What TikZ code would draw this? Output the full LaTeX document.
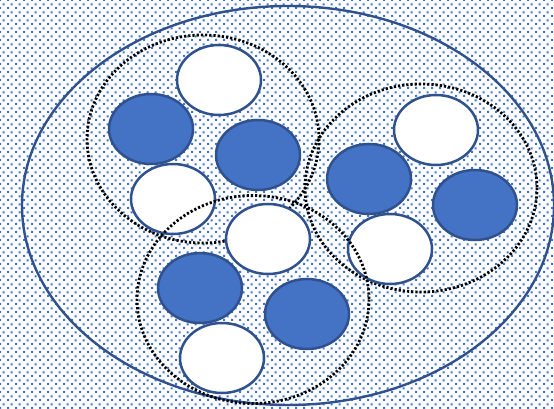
\documentclass[tikz,border=0pt]{standalone}
\usetikzlibrary{patterns}
\definecolor{fillblue}{RGB}{68,114,196}
\definecolor{edgeblue}{RGB}{47,82,143}
\pgfdeclarepatternformonly{mydots}{\pgfpoint{0pt}{0pt}}{\pgfpoint{8pt}{8pt}}{\pgfpoint{8pt}{8pt}}{%
  \pgfpathrectangle{\pgfpoint{0pt}{0pt}}{\pgfpoint{2.4pt}{2.4pt}}%
  \pgfpathrectangle{\pgfpoint{4pt}{4pt}}{\pgfpoint{2.4pt}{2.4pt}}%
  \pgfusepath{fill}}
\tikzset{
  member/.style={draw=edgeblue, line width=2.5pt},
  bluemember/.style={member, fill=fillblue},
  whitemember/.style={member, fill=white},
  groupring/.style={draw=black, line width=2.8pt, dash pattern=on 2.2pt off 2pt},
}
\begin{document}
\begin{tikzpicture}[x=1pt,y=-1pt]
\useasboundingbox (0,0) rectangle (554,409);
\fill[white] (0,0) rectangle (554,409);
\fill[pattern=mydots, pattern color=fillblue] (0,0) rectangle (554,409);
% outer ellipse
\draw[edgeblue, line width=2.4pt] (288,205.5) ellipse [x radius=266, y radius=199.5];
% group 1
\draw[groupring] (203,139) ellipse [x radius=116, y radius=104];
\draw[whitemember] (219,80) ellipse [x radius=42, y radius=35];
\draw[bluemember] (151,129) ellipse [x radius=42, y radius=35];
\draw[bluemember] (258,155) ellipse [x radius=42, y radius=35];
\draw[whitemember] (173,199) ellipse [x radius=42, y radius=35];
% group 2
\draw[groupring] (421,188) ellipse [x radius=116, y radius=104];
\draw[whitemember] (436,130) ellipse [x radius=42, y radius=35];
\draw[bluemember] (369,179) ellipse [x radius=42, y radius=35];
\draw[bluemember] (475,205) ellipse [x radius=42, y radius=35];
\draw[whitemember] (390,249) ellipse [x radius=42, y radius=35];
% group 3
\draw[groupring] (253,299.5) ellipse [x radius=116, y radius=104];
\draw[whitemember] (268,239) ellipse [x radius=42, y radius=35];
\draw[bluemember] (200,288) ellipse [x radius=42, y radius=35];
\draw[bluemember] (307,314) ellipse [x radius=42, y radius=35];
\draw[whitemember] (222,358) ellipse [x radius=42, y radius=35];
\end{tikzpicture}
\end{document}
